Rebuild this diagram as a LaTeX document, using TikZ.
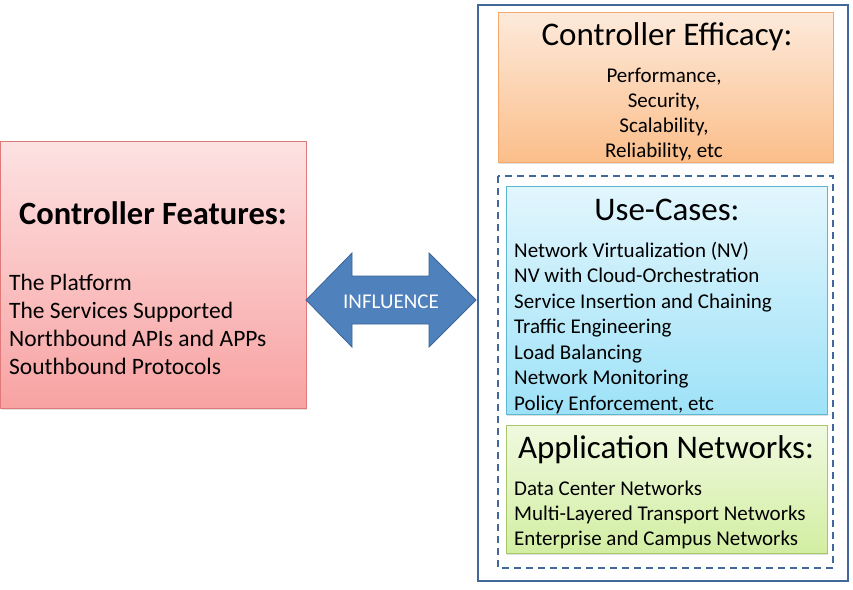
\documentclass[tikz,border=0pt]{standalone}
\usepackage{fontspec}
\setmainfont{Carlito}
\usetikzlibrary{shadows}
\definecolor{redtop}{HTML}{FDE2E2}
\definecolor{redbot}{HTML}{F8A2A2}
\definecolor{redline}{HTML}{E07A7A}
\definecolor{ortop}{HTML}{FDEADB}
\definecolor{orbot}{HTML}{FBBE8A}
\definecolor{orline}{HTML}{F6A96A}
\definecolor{bltop}{HTML}{E2F6FD}
\definecolor{blbot}{HTML}{9EE2F8}
\definecolor{blline}{HTML}{5BB8D2}
\definecolor{grtop}{HTML}{F0F9DF}
\definecolor{grbot}{HTML}{D2EEA2}
\definecolor{grline}{HTML}{A8C76A}
\definecolor{frame}{HTML}{41679B}
\definecolor{arrfill}{HTML}{4F81BD}
\definecolor{arrline}{HTML}{3A6596}
\tikzset{
  box/.style={draw, line width=0.8pt, shading=axis, shading angle=0,
    drop shadow={opacity=0.25, shadow xshift=1.2pt, shadow yshift=-1.5pt}},
  head/.style={font=\fontsize{33}{36}\selectfont, inner sep=0pt, anchor=base},
  item/.style={font=\fontsize{21}{24}\selectfont, inner sep=0pt, anchor=base west},
  citem/.style={font=\fontsize{21}{24}\selectfont, inner sep=0pt, anchor=base},
}
\begin{document}
\begin{tikzpicture}[x=1pt,y=-1pt]
\useasboundingbox (0,0) rectangle (853,589);
% left red box
\path[box, draw=redline, top color=redtop, bottom color=redbot] (0.5,141) rectangle (306,408);
\node (feat) [font=\bfseries\fontsize{32.5}{36}\selectfont, inner sep=0pt, anchor=base] at (153,224) {Controller Features:};
\foreach \t [count=\i] in {The Platform, The Services Supported, Northbound APIs and APPs, Southbound Protocols}
  \node (feat\i) [item, font=\fontsize{23.5}{26}\selectfont] at (9,{290+28*(\i-1)}) {\t};
% double arrow
\draw[fill=arrfill, draw=arrline, line width=0.8pt]
  (306,300) -- (352,253) -- (352,276) -- (429,276) -- (429,253) -- (476,300)
  -- (429,347) -- (429,324) -- (352,324) -- (352,347) -- cycle;
\node (infl) [text=white, font=\fontsize{21}{24}\selectfont, inner sep=0pt, anchor=base] at (391,308) {INFLUENCE};
% outer frame
\draw[frame, line width=1.6pt] (478,5) rectangle (848,581);
% efficacy
\path[box, draw=orline, top color=ortop, bottom color=orbot] (498,12) rectangle (833,162);
\node (eff) [head] at (667,45) {Controller Efficacy:};
\foreach \t [count=\i] in {{Performance,}, {Security,}, {Scalability,}, {Reliability, etc}}
  \node (eff\i) [citem] at (664,{82+25*(\i-1)}) {\t};
% dashed group
\draw[frame, line width=1.6pt, dash pattern=on 7pt off 5pt] (498,176) rectangle (833,568);
% use cases
\path[box, draw=blline, top color=bltop, bottom color=blbot] (506,186) rectangle (827,414);
\node (uc) [head] at (667,220) {Use-Cases:};
\foreach \t [count=\i] in {Network Virtualization (NV), NV with Cloud-Orchestration, Service Insertion and Chaining, Traffic Engineering, Load Balancing, Network Monitoring, {Policy Enforcement, etc}}
  \node (uc\i) [item] at (514,{257+25.5*(\i-1)}) {\t};
% application networks
\path[box, draw=grline, top color=grtop, bottom color=grbot] (506,425) rectangle (827,553);
\node (app) [head] at (666,458) {Application Networks:};
\foreach \t [count=\i] in {Data Center Networks, Multi-Layered Transport Networks, Enterprise and Campus Networks}
  \node (app\i) [item] at (514,{495+25*(\i-1)}) {\t};
\end{tikzpicture}
\end{document}
